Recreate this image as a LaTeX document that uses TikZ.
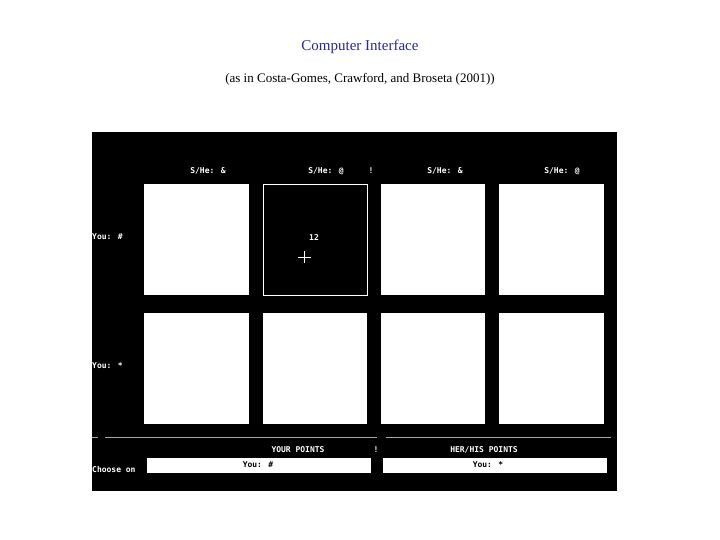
\documentclass[tikz,border=0pt]{standalone}
\usepackage{fontspec}
\setmainfont{Liberation Serif}
\newfontfamily\screenfont{DejaVu Sans Mono}
\definecolor{titleblue}{RGB}{40,40,150}

\begin{document}
\begin{tikzpicture}[x=1pt,y=-1pt,
    scr/.style={text=white, font=\screenfont\bfseries\fontsize{8}{9}\selectfont, inner sep=0pt},
    cell/.style={fill=white}]
        % Page frame
        \useasboundingbox (0,0) rectangle (720,540);

        % Titles
        \node[text=titleblue, font=\fontsize{15}{17}\selectfont] (title) at (360,47) {Computer Interface};
        \node[font=\fontsize{13}{15}\selectfont] (subtitle) at (360,79) {(as in Costa-Gomes, Crawford, and Broseta (2001))};

        % Screen
        \fill[black] (92,132) rectangle (617,491);

        % Column headers
        \node[scr] (h1) at (208,171) {S/He: \&};
        \node[scr] (h2) at (326,171) {S/He: @};
        \node[scr] (bar1) at (371,171) {!};
        \node[scr] (h3) at (445,171) {S/He: \&};
        \node[scr] (h4) at (562,171) {S/He: @};

        % Row labels
        \node[scr, anchor=west] (r1) at (92,237) {You: \#};
        \node[scr, anchor=west] (r2) at (92,366) {You: *};

        % Payoff cells
        \foreach \x/\w in {144/249, 381/485, 499/604}
            \fill[cell] (\x,184) rectangle (\w,295);
        \draw[white] (263,184) rectangle (367,295);
        \foreach \x/\w in {144/249, 263/367, 381/485, 499/604}
            \fill[cell] (\x,313) rectangle (\w,424);

        % Revealed payoff and cursor
        \node[scr] (pay) at (314,238) {12};
        \draw[white, thick] (298,257) -- (311,257) (304,251) -- (304,263);

        % Separator lines
        \draw[gray!70, thick] (92,437) -- (98,437) (105,437) -- (377,437) (386,437) -- (611,437);

        % Points area
        \node[scr] (yp) at (298,450) {YOUR POINTS};
        \node[scr] (bar2) at (376,450) {!};
        \node[scr] (hp) at (484,450) {HER/HIS POINTS};
        \node[scr, anchor=west] (choose) at (92,470) {Choose on};
        \fill[white] (147,458) rectangle (371,473);
        \fill[white] (383,458) rectangle (607,473);
        \node[scr, text=black] (you1) at (258,465) {You: \#};
        \node[scr, text=black] (you2) at (488,465) {You: *};
\end{tikzpicture}
\end{document}
